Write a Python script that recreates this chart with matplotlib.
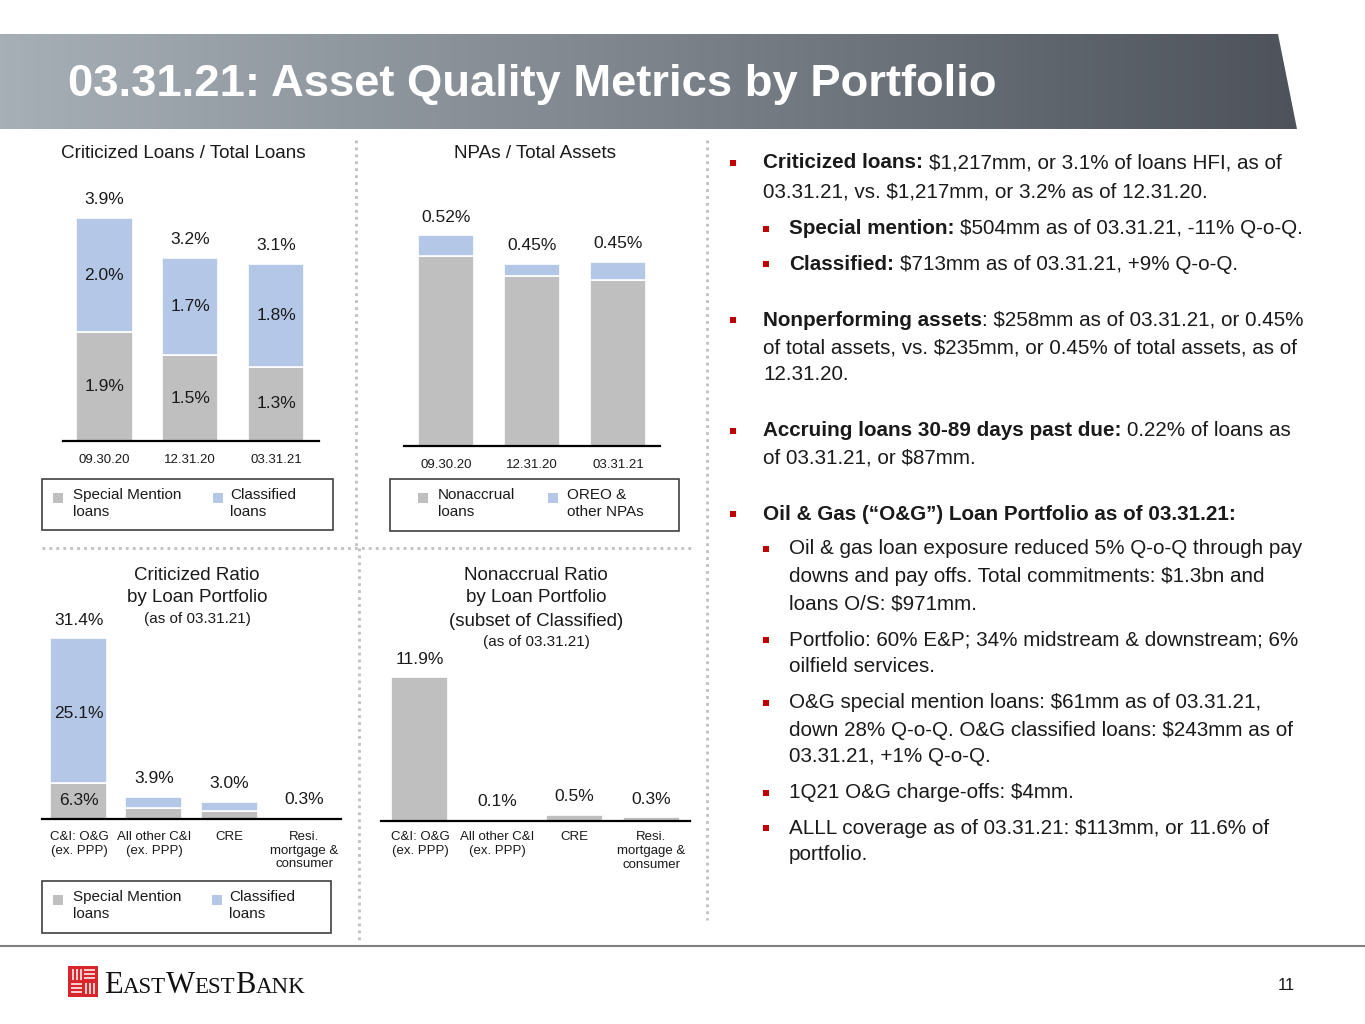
import numpy as np
import matplotlib
matplotlib.use("Agg")
import matplotlib.pyplot as plt
from matplotlib.patches import Rectangle, Polygon
from matplotlib.colors import LinearSegmentedColormap
from matplotlib import font_manager

# chart data
dates = ["09.30.20", "12.31.20", "03.31.21"]
crit_special = [1.9, 1.5, 1.3]
crit_classified = [2.0, 1.7, 1.8]
crit_total = [3.9, 3.2, 3.1]

npa_nonaccrual = [0.47, 0.42, 0.41]
npa_other = [0.05, 0.03, 0.045]
npa_total = [0.52, 0.45, 0.45]

portfolios = ["C&I: O&G\n(ex. PPP)", "All other C&I\n(ex. PPP)", "CRE",
              "Resi.\nmortgage &\nconsumer"]
port_special = [6.3, 1.9, 1.4, 0.2]
port_classified = [25.1, 2.0, 1.6, 0.1]
port_total = [31.4, 3.9, 3.0, 0.3]
nonaccrual_ratio = [11.9, 0.1, 0.5, 0.3]

W, H = 1365, 1024
GRAY = "#bfbfbf"
BLUE = "#b4c7e7"
TXT = "#1a1a1a"
RED = "#c00000"
VAL_FS = 12.5

names = {f.name for f in font_manager.fontManager.ttflist}
SANS = "Liberation Sans" if "Liberation Sans" in names else "DejaVu Sans"
SERIF = "Liberation Serif" if "Liberation Serif" in names else "DejaVu Serif"
plt.rcParams["font.family"] = SANS

fig = plt.figure(figsize=(W / 100, H / 100), dpi=100)
fig.patch.set_facecolor("white")


def px_axes(x0, y0, x1, y1, z=1):
    return fig.add_axes([x0 / W, 1 - y1 / H, (x1 - x0) / W, (y1 - y0) / H], zorder=z)


# full page canvas in pixel coordinates
cv = px_axes(0, 0, W, H, z=0)
cv.set_xlim(0, W)
cv.set_ylim(H, 0)
cv.axis("off")
renderer = fig.canvas.get_renderer()


def text_w(t):
    return t.get_window_extent(renderer).width


# header band with gradient
band = Polygon([(0, 34), (1278, 34), (1297, 129), (0, 129)], closed=True,
               facecolor="none", edgecolor="none")
cv.add_patch(band)
grad = np.linspace(0, 1, 256).reshape(1, -1)
hdr_cmap = LinearSegmentedColormap.from_list("hdr", ["#a7afb6", "#7d848c", "#4e535b"])
im = cv.imshow(grad, extent=(0, 1297, 129, 34), cmap=hdr_cmap, aspect="auto", zorder=1)
im.set_clip_path(band)
cv.set_xlim(0, W)
cv.set_ylim(H, 0)

title = cv.text(68, 96, "03.31.21: Asset Quality Metrics by Portfolio", color="white",
                fontsize=30, fontweight="bold", va="baseline", ha="left", zorder=3)
title.set_fontsize(30 * 930 / text_w(title))

# separators
dot = dict(color="#bfbfbf", lw=2, linestyle=(0, (1, 1.5)), zorder=2)
cv.plot([356, 356], [140, 548], **dot)
cv.plot([359, 359], [548, 940], **dot)
cv.plot([707, 707], [140, 920], **dot)
cv.plot([42, 693], [548, 548], **dot)

# footer
cv.plot([0, W], [946, 946], color="#7f7f7f", lw=1.5)
cv.text(1286, 986, "11", fontsize=12, ha="center", va="center", color=TXT)

# logo mark
cv.add_patch(Rectangle((68, 966), 30, 31, facecolor="#d9262c", edgecolor="none"))
wl = dict(color="white", lw=1.1, solid_capstyle="butt")
for xx in (73, 77, 81):
    cv.plot([xx, xx], [969, 980], **wl)
for yy in (970, 974, 978):
    cv.plot([84, 95], [yy, yy], **wl)
for yy in (984, 988, 992):
    cv.plot([71, 82], [yy, yy], **wl)
for xx in (86, 90, 94):
    cv.plot([xx, xx], [983, 994], **wl)

xpos = 104
for word in ("EAST", "WEST", "BANK"):
    t1 = cv.text(xpos, 993, word[0], family=SERIF, fontsize=22, color="#111111", va="baseline")
    xpos += text_w(t1)
    t2 = cv.text(xpos, 993, word[1:], family=SERIF, fontsize=16.5, color="#111111", va="baseline")
    xpos += text_w(t2)


def style_chart(ax, pad):
    for s in ("top", "right", "left"):
        ax.spines[s].set_visible(False)
    ax.spines["bottom"].set_linewidth(1.6)
    ax.spines["bottom"].set_color("black")
    ax.set_yticks([])
    ax.tick_params(axis="x", length=0, pad=pad, labelsize=9.5, labelcolor=TXT)
    ax.patch.set_alpha(0)


def label(ax, x, y, s, dy=18):
    ax.annotate(s, (x, y), xytext=(0, dy * 0.72), textcoords="offset points",
                ha="center", va="center", fontsize=VAL_FS, color=TXT)


def legend_box(x0, y0, x1, y1, entries):
    cv.add_patch(Rectangle((x0, y0), x1 - x0, y1 - y0, facecolor="none",
                           edgecolor="#404040", lw=1.2))
    for sx, col, tx, txt in entries:
        cv.add_patch(Rectangle((sx, y0 + 14), 9.5, 9.5, facecolor=col, edgecolor="none"))
        cv.text(tx, y0 + 9, txt, fontsize=11, color=TXT, va="top", ha="left",
                linespacing=1.3)


# chart 1: criticized loans / total loans
ax1 = px_axes(63, 180, 319, 441)
x = np.arange(len(dates))
ax1.bar(x, crit_special, 0.66, color=GRAY, edgecolor="white", lw=1.2)
ax1.bar(x, crit_classified, 0.66, bottom=crit_special, color=BLUE, edgecolor="white", lw=1.2)
ax1.set_xlim(-0.48, 2.5)
ax1.set_ylim(0, 4.56)
ax1.set_xticks(x, dates)
style_chart(ax1, 9.2)
for i in x:
    label(ax1, i, crit_total[i], f"{crit_total[i]:.1f}%")
    ax1.text(i, crit_special[i] / 2, f"{crit_special[i]:.1f}%", ha="center", va="center",
             fontsize=VAL_FS, color=TXT)
    ax1.text(i, crit_special[i] + crit_classified[i] / 2, f"{crit_classified[i]:.1f}%",
             ha="center", va="center", fontsize=VAL_FS, color=TXT)
cv.text(183, 153, "Criticized Loans / Total Loans", fontsize=13.6, ha="center", va="center", color=TXT)
legend_box(42, 479, 333, 530, [(53, GRAY, 73, "Special Mention\nloans"),
                               (213, BLUE, 230, "Classified\nloans")])

# chart 2: NPAs / total assets
ax2 = px_axes(404, 200, 660, 446)
ax2.bar(x, npa_nonaccrual, 0.66, color=GRAY, edgecolor="white", lw=1.2)
ax2.bar(x, npa_other, 0.66, bottom=npa_nonaccrual, color=BLUE, edgecolor="white", lw=1.2)
ax2.set_xlim(-0.49, 2.49)
ax2.set_ylim(0, 246 / 405)
ax2.set_xticks(x, dates)
style_chart(ax2, 9.2)
for i in x:
    label(ax2, i, npa_nonaccrual[i] + npa_other[i], f"{npa_total[i]:.2f}%")
cv.text(535, 153, "NPAs / Total Assets", fontsize=13.6, ha="center", va="center", color=TXT)
legend_box(390, 479, 679, 531, [(418, GRAY, 438, "Nonaccrual\nloans"),
                                (548, BLUE, 567, "OREO &\nother NPAs")])

# chart 3: criticized ratio by loan portfolio
ax3 = px_axes(42, 630, 341, 819)
xp = np.arange(len(portfolios))
ax3.bar(xp, port_special, 0.76, color=GRAY, edgecolor="white", lw=1.2)
ax3.bar(xp, port_classified, 0.76, bottom=port_special, color=BLUE, edgecolor="white", lw=1.2)
ax3.set_xlim(-0.493, 3.493)
ax3.set_ylim(0, 189 / 5.764)
ax3.set_xticks(xp, portfolios)
style_chart(ax3, 8.5)
for i in xp:
    label(ax3, i, port_special[i] + port_classified[i], f"{port_total[i]:.1f}%")
ax3.text(0, port_special[0] / 2, f"{port_special[0]:.1f}%", ha="center", va="center",
         fontsize=VAL_FS, color=TXT)
ax3.text(0, port_special[0] + port_classified[0] * 0.48, f"{port_classified[0]:.1f}%",
         ha="center", va="center", fontsize=VAL_FS, color=TXT)
cv.text(197, 576, "Criticized Ratio", fontsize=13.5, ha="center", va="center", color=TXT)
cv.text(197, 598, "by Loan Portfolio", fontsize=13.5, ha="center", va="center", color=TXT)
cv.text(197, 619, "(as of 03.31.21)", fontsize=11, ha="center", va="center", color=TXT)
legend_box(42, 881, 331, 933, [(53, GRAY, 73, "Special Mention\nloans"),
                               (212, BLUE, 229, "Classified\nloans")])

# chart 4: nonaccrual ratio by loan portfolio
ax4 = px_axes(381, 660, 690, 821)
ax4.bar(xp, nonaccrual_ratio, 0.74, color=GRAY, edgecolor="white", lw=1.2)
ax4.set_xlim(-0.506, 3.506)
ax4.set_ylim(0, 161 / 12.1)
ax4.set_xticks(xp, portfolios)
style_chart(ax4, 7.5)
for i in xp:
    label(ax4, i, nonaccrual_ratio[i], f"{nonaccrual_ratio[i]:.1f}%")
cv.text(536, 576, "Nonaccrual Ratio", fontsize=13.5, ha="center", va="center", color=TXT)
cv.text(536, 598, "by Loan Portfolio", fontsize=13.5, ha="center", va="center", color=TXT)
cv.text(536, 621, "(subset of Classified)", fontsize=13.5, ha="center", va="center", color=TXT)
cv.text(536, 642, "(as of 03.31.21)", fontsize=11, ha="center", va="center", color=TXT)

# commentary on the right
FS = 14.9
space_px = FS * 100 / 72 * 0.278


def bullet(level, y):
    bx = 733 if level == 0 else 766
    cv.add_patch(Rectangle((bx - 3, y - 3.5), 6, 6, facecolor=RED, edgecolor="none"))


def line(level, y, parts):
    tx = 763 if level == 0 else 789
    for i, (s, bold) in enumerate(parts):
        if i > 0 and not s.startswith(":"):
            tx += space_px
        t = cv.text(tx, y, s, fontsize=FS, fontweight="bold" if bold else "normal",
                    color=TXT, va="center", ha="left")
        tx += text_w(t)


notes = [
    (0, [163, 192], [[("Criticized loans:", True), ("$1,217mm, or 3.1% of loans HFI, as of", False)],
                     [("03.31.21, vs. $1,217mm, or 3.2% as of 12.31.20.", False)]]),
    (1, [229], [[("Special mention:", True), ("$504mm as of 03.31.21, -11% Q-o-Q.", False)]]),
    (1, [264], [[("Classified:", True), ("$713mm as of 03.31.21, +9% Q-o-Q.", False)]]),
    (0, [320, 348, 375], [[("Nonperforming assets", True), (": $258mm as of 03.31.21, or 0.45%", False)],
                          [("of total assets, vs. $235mm, or 0.45% of total assets, as of", False)],
                          [("12.31.20.", False)]]),
    (0, [431, 458], [[("Accruing loans 30-89 days past due:", True), ("0.22% of loans as", False)],
                     [("of 03.31.21, or $87mm.", False)]]),
    (0, [514], [[("Oil & Gas (\u201cO&G\u201d) Loan Portfolio as of 03.31.21:", True)]]),
    (1, [549, 577, 604], [[("Oil & gas loan exposure reduced 5% Q-o-Q through pay", False)],
                          [("downs and pay offs. Total commitments: $1.3bn and", False)],
                          [("loans O/S: $971mm.", False)]]),
    (1, [640, 667], [[("Portfolio: 60% E&P; 34% midstream & downstream; 6%", False)],
                     [("oilfield services.", False)]]),
    (1, [703, 730, 757], [[("O&G special mention loans: $61mm as of 03.31.21,", False)],
                          [("down 28% Q-o-Q. O&G classified loans: $243mm as of", False)],
                          [("03.31.21, +1% Q-o-Q.", False)]]),
    (1, [793], [[("1Q21 O&G charge-offs: $4mm.", False)]]),
    (1, [828, 855], [[("ALLL coverage as of 03.31.21: $113mm, or 11.6% of", False)],
                     [("portfolio.", False)]]),
]
for level, ys, rows in notes:
    bullet(level, ys[0])
    for y, parts in zip(ys, rows):
        line(level, y, parts)

fig.savefig("out.png", dpi=100, facecolor="white")
